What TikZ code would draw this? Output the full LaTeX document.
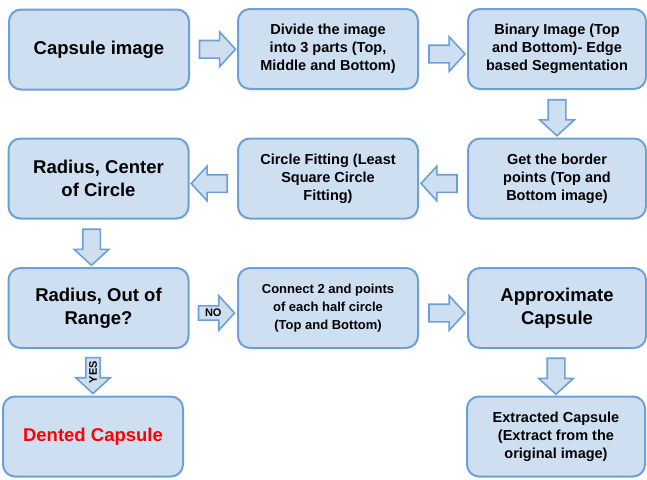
\documentclass[tikz,border=0pt]{standalone}
\usepackage{fontspec}
\setmainfont{Liberation Sans}
\usetikzlibrary{shapes.arrows}
\definecolor{boxfill}{RGB}{207,223,242}
\definecolor{boxline}{RGB}{108,160,214}
\definecolor{dentred}{RGB}{255,0,0}
\tikzset{StepBox/.style={rectangle, rounded corners=12pt, draw=boxline, line width=2pt, fill=boxfill, minimum width=180pt, minimum height=80pt, align=center, inner sep=2pt}}
\tikzset{BigText/.style={font=\fontsize{18.5}{23}\selectfont\bfseries}}
\tikzset{SmallText/.style={font=\fontsize{14.5}{18}\selectfont\bfseries}}
\tikzset{FlowArrow/.style={single arrow, draw=boxline, fill=boxfill, line width=1.6pt, minimum height=36pt, minimum width=34pt, single arrow head extend=8.5pt, single arrow tip angle=95, inner sep=8pt, font=\fontsize{11}{11}\selectfont\bfseries}}
\tikzset{RightArrow/.style={FlowArrow}}
\tikzset{LeftArrow/.style={FlowArrow, shape border rotate=180}}
\tikzset{DownArrow/.style={FlowArrow, shape border rotate=270}}
\tikzset{TextArrow/.style={FlowArrow, inner sep=2.5pt, single arrow head extend=10pt}}

\begin{document}
\begin{tikzpicture}[x=1pt,y=-1pt]
\useasboundingbox (0,0) rectangle (647,479);

\node[StepBox,BigText](capsule) at (99,49.5) {Capsule image};
\node[StepBox,SmallText](divide) at (328,49) {Divide the image\\into 3 parts (Top,\\Middle and Bottom)};
\node[StepBox,SmallText,minimum width=178pt](binary) at (557,49) {Binary Image (Top\\and Bottom)- Edge\\based Segmentation};

\node[StepBox,BigText](radius) at (98.5,178.5) {Radius, Center\\of Circle};
\node[StepBox,SmallText](fitting) at (328,178.5) {Circle Fitting (Least\\Square Circle\\Fitting)};
\node[StepBox,SmallText,minimum width=178pt](border) at (557,178.5) {Get the border\\points (Top and\\Bottom image)};

\node[StepBox,BigText](range) at (98.5,308) {Radius, Out of\\Range?};
\node[StepBox,font=\fontsize{13}{18}\selectfont\bfseries](connect) at (328,308) {Connect 2 and points\\of each half circle\\(Top and Bottom)};
\node[StepBox,BigText,minimum width=178pt](approx) at (557,308) {Approximate\\Capsule};

\node[StepBox,BigText,text=dentred](dented) at (93,436.5) {Dented Capsule};
\node[StepBox,SmallText,minimum width=178pt](extracted) at (556,436.5) {Extracted Capsule\\(Extract from the\\original image)};

% block arrows between the steps
\path (capsule) -- node[RightArrow]{} (divide);
\path ([yshift=-5pt]divide.east) -- node[RightArrow]{} ([yshift=-5pt]binary.west);
\path (binary) -- node[DownArrow]{} (border);
\path ([yshift=-5pt]border.west) -- node[LeftArrow]{} ([yshift=-5pt]fitting.east);
\path ([yshift=-5pt]fitting.west) -- node[LeftArrow]{} ([yshift=-5pt]radius.east);
\path ([xshift=-7pt]radius.south) -- node[DownArrow]{} ([xshift=-7pt]range.north);
\path ([yshift=-5pt]range.east) -- node[TextArrow]{NO} ([yshift=-5pt]connect.west);
\path ([yshift=-5pt]connect.east) -- node[RightArrow]{} ([yshift=-5pt]approx.west);
\path (range.south -| dented.north) -- node[TextArrow, rotate=90, shape border rotate=180]{YES} (dented.north);
\path (approx.south -| extracted.north) -- node[DownArrow]{} (extracted.north);
\end{tikzpicture}
\end{document}
